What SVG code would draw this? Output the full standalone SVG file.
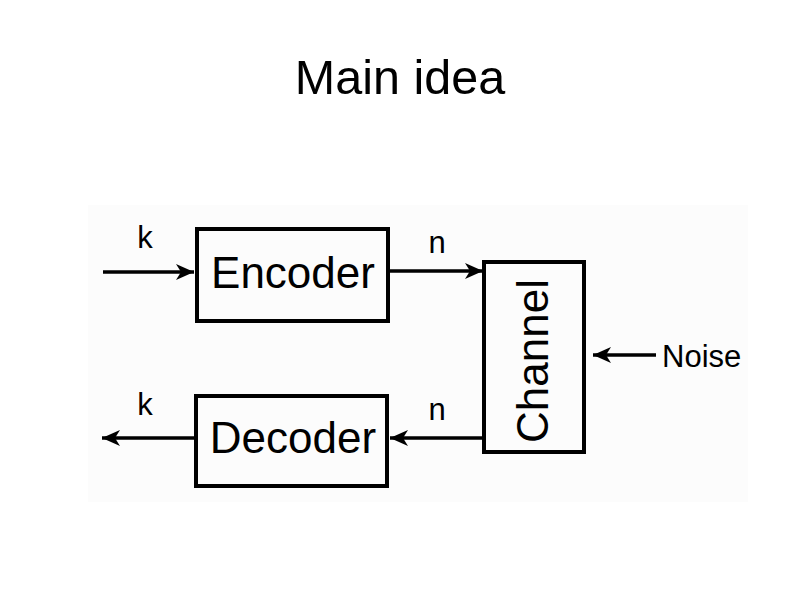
<svg xmlns="http://www.w3.org/2000/svg" width="800" height="600" viewBox="0 0 800 600">
<style>
.box{fill:none;stroke:#000;stroke-width:4}
.wire{stroke:#000;stroke-width:3.5;fill:none}
text{font-family:"Liberation Sans",Arial,sans-serif;fill:#000}
.lbl{font-size:31px}
.big{font-size:44px;text-anchor:middle}
</style>
<defs>
<marker id="arr" markerUnits="userSpaceOnUse" markerWidth="22" markerHeight="20" viewBox="-20 -10 22 20" refX="0" refY="0" orient="auto">
<path d="M0,0 L-18,-8 L-13,0 L-18,8 Z" fill="#000"/>
</marker>
</defs>
<rect x="0" y="0" width="800" height="600" fill="#fff"/>
<rect x="88" y="205" width="660" height="297" fill="#fcfcfc"/>
<text x="400" y="94" font-size="48.5" text-anchor="middle">Main idea</text>
<g id="connectors">
<line class="wire" x1="103" y1="272" x2="194" y2="272" marker-end="url(#arr)"/>
<line class="wire" x1="388" y1="271" x2="483" y2="271" marker-end="url(#arr)"/>
<line class="wire" x1="656" y1="355" x2="593" y2="355" marker-end="url(#arr)"/>
<line class="wire" x1="484" y1="438" x2="390" y2="438" marker-end="url(#arr)"/>
<line class="wire" x1="196" y1="438" x2="102" y2="438" marker-end="url(#arr)"/>
</g>
<g id="encoder">
<rect class="box" x="197" y="229" width="191" height="92"/>
<text class="big" x="293" y="288">Encoder</text>
</g>
<g id="decoder">
<rect class="box" x="196" y="396" width="191" height="90"/>
<text class="big" x="293" y="453">Decoder</text>
</g>
<g id="channel">
<rect class="box" x="484" y="262" width="100" height="190"/>
<text class="big" font-size="42" transform="translate(548,361) rotate(-90)">Channel</text>
</g>
<g id="labels">
<text class="lbl" x="145" y="248" text-anchor="middle">k</text>
<text class="lbl" x="437" y="253" text-anchor="middle">n</text>
<text class="lbl" x="145" y="415" text-anchor="middle">k</text>
<text class="lbl" x="437" y="420" text-anchor="middle">n</text>
<text class="lbl" x="662" y="367">Noise</text>
</g>
</svg>
